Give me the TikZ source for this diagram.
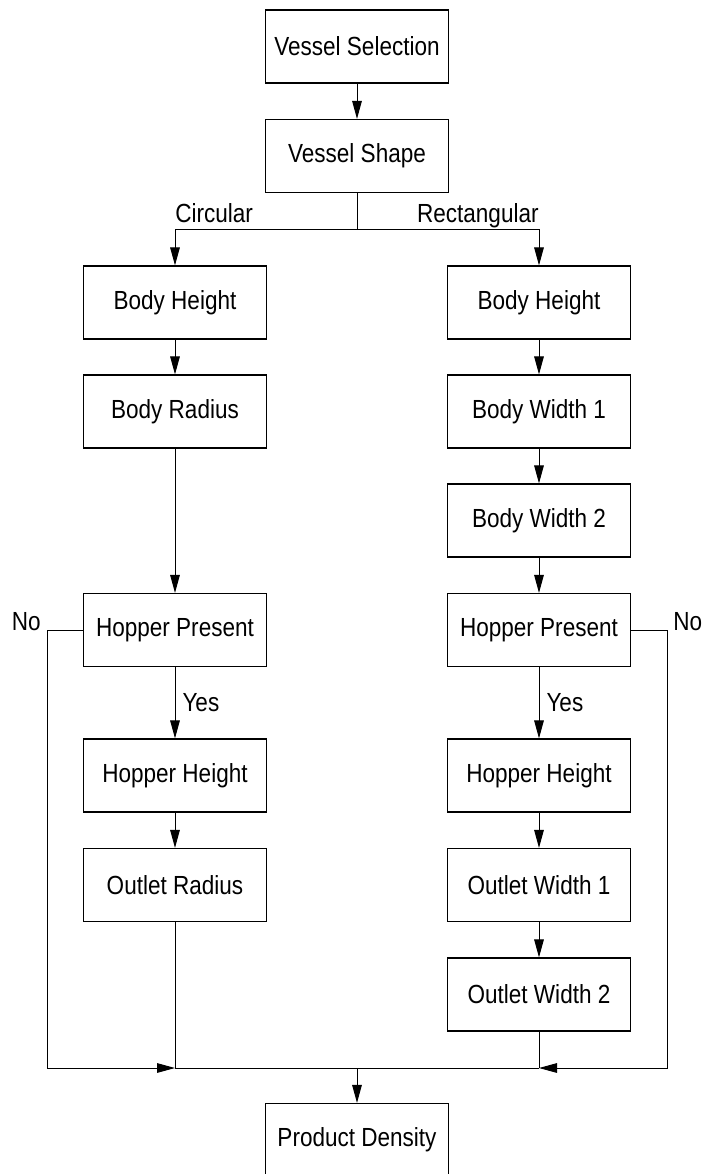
\documentclass[tikz,border=0pt]{standalone}
\usepackage{fontspec}
\setmainfont{Liberation Sans}
\newfontfamily\flowfont[FakeStretch=0.86]{Liberation Sans}
\usetikzlibrary{arrows.meta}
\begin{document}
\begin{tikzpicture}[x=0.5pt,y=-0.5pt,
  box/.style={draw,line width=0.6pt,minimum width=91.5pt,minimum height=36.5pt,inner sep=0pt,font=\flowfont\fontsize{13.1}{15}\selectfont},
  flow/.style={line width=0.5pt,-{Triangle[length=9pt,width=4.8pt]}},
  link/.style={line width=0.5pt},
  lbl/.style={inner sep=0pt,font=\flowfont\fontsize{13.1}{15}\selectfont}]
 \useasboundingbox (0,0) rectangle (704,1174);
 \node[box] (vsel)   at (357,46.5)  {Vessel Selection};
 \node[box] (vshape) at (357,156)   {Vessel Shape};
 \node[box] (lbh)    at (175,302.5) {Body Height};
 \node[box] (lbr)    at (175,411.5) {Body Radius};
 \node[box] (lhp)    at (175,630)   {Hopper Present};
 \node[box] (lhh)    at (175,775.5) {Hopper Height};
 \node[box] (lor)    at (175,885)   {Outlet Radius};
 \node[box] (rbh)    at (539,302.5) {Body Height};
 \node[box] (rbw1)   at (539,411.5) {Body Width 1};
 \node[box] (rbw2)   at (539,520.5) {Body Width 2};
 \node[box] (rhp)    at (539,630)   {Hopper Present};
 \node[box] (rhh)    at (539,775.5) {Hopper Height};
 \node[box] (row1)   at (539,885)   {Outlet Width 1};
 \node[box] (row2)   at (539,994.5) {Outlet Width 2};
 \node[box] (pd)     at (357,1140)  {Product Density};
 \coordinate (split)  at (357,229);
 \coordinate (lno)    at (47,630);
 \coordinate (rno)    at (667,630);
 \coordinate (lmerge) at (175,1068);
 \coordinate (rmerge) at (539,1068);
 \coordinate (mid)    at (357,1068);
 \draw[flow] (vsel) -- (vshape);
 \draw[link] (vshape) -- (split);
 \draw[flow] (split) -| (lbh.north);
 \draw[flow] (split) -| (rbh.north);
 \node[lbl,anchor=base west] (circ) at (175,222) {Circular};
 \node[lbl,anchor=base east] (rect) at (539,222) {Rectangular};
 \draw[flow] (lbh) -- (lbr);
 \draw[flow] (lbr) -- (lhp);
 \draw[flow] (lhp) -- (lhh) node[lbl,midway,right,xshift=3.5pt] (lyes) {Yes};
 \draw[flow] (lhh) -- (lor);
 \draw[flow] (rbh) -- (rbw1);
 \draw[flow] (rbw1) -- (rbw2);
 \draw[flow] (rbw2) -- (rhp);
 \draw[flow] (rhp) -- (rhh) node[lbl,midway,right,xshift=3.5pt] (ryes) {Yes};
 \draw[flow] (rhh) -- (row1);
 \draw[flow] (row1) -- (row2);
 \draw[flow] (lhp.west) -- (lno) |- (lmerge);
 \draw[flow] (rhp.east) -- (rno) |- (rmerge);
 \node[lbl,anchor=base east] (lnolbl) at (41,630) {No};
 \node[lbl,anchor=base west] (rnolbl) at (673,630) {No};
 \draw[link] (lor) -- (lmerge) -- (rmerge);
 \draw[link] (row2) -- (rmerge);
 \draw[flow] (mid) -- (pd);
\end{tikzpicture}
\end{document}
